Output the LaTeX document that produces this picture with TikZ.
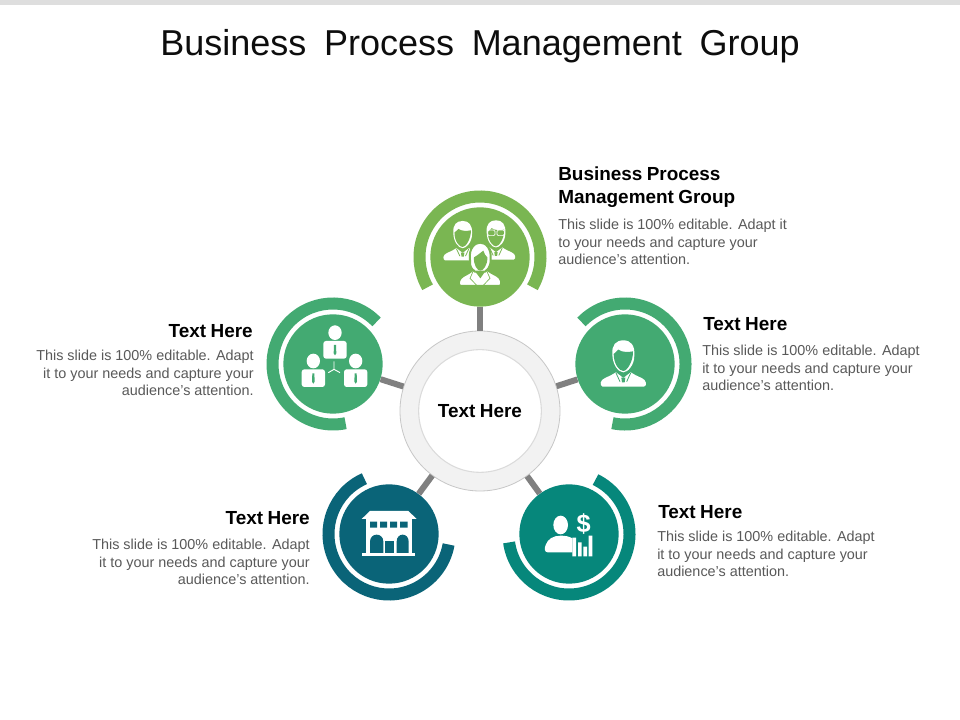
\documentclass[tikz,border=0pt]{standalone}
\usepackage{fontspec}
\setmainfont{Liberation Sans}
\definecolor{cgreen}{HTML}{7AB652}
\definecolor{cmint}{HTML}{43AA72}
\definecolor{cblue}{HTML}{0A6478}
\definecolor{cteal}{HTML}{06877B}
\definecolor{cbody}{HTML}{595959}
\definecolor{cspoke}{HTML}{808080}
\newcommand{\headfnt}{\bfseries\fontsize{14.2pt}{17.25pt}\selectfont\spaceskip 3.3pt\relax}
\newcommand{\titlefnt}{\fontsize{27pt}{32pt}\selectfont\spaceskip 13.25pt\relax}
\tikzset{
  disc/.style={circle,inner sep=0pt,minimum size=74.5pt,fill=#1},
  band/.style={line width=9pt,draw=#1},
  spoke/.style={line width=4.5pt,draw=cspoke},
  headR/.style={font=\headfnt,text=black,inner sep=0pt,anchor=west,align=left},
  headL/.style={font=\headfnt,text=black,inner sep=0pt,anchor=east,align=right},
  bodyR/.style={font=\fontsize{10.8pt}{13.1pt}\selectfont,text=cbody,inner sep=0pt,anchor=west,align=left},
  bodyL/.style={font=\fontsize{10.8pt}{13.1pt}\selectfont,text=cbody,inner sep=0pt,anchor=east,align=right},
  crop/.style={x=0.25pt,y=-0.25pt},
}
\newcommand{\ringband}[4]{\draw[band=#4] ([shift={(#2:60.5)}]#1.center) arc[start angle=#2,end angle=#3,radius=60.5];}
\newcommand{\manfig}[4]{%
  \begin{scope}[shift={(#1,#2)},scale=#3]
    \fill[white] (-62,93) .. controls (-72,90) and (-70,73) .. (-55,67) .. controls (-42,61) and (-32,57) .. (-22,50) -- (0,67) -- (22,50) .. controls (32,57) and (42,61) .. (55,67) .. controls (70,73) and (72,90) .. (62,93) -- cycle;
    \fill[white] (-33,-5) .. controls (-35,-32) and (-22,-46) .. (0,-46) .. controls (22,-46) and (35,-32) .. (33,0) .. controls (33,30) and (12,50) .. (0,50) .. controls (-15,50) and (-33,27) .. (-33,-5) -- cycle;
    \fill[#4] (-29,-5) .. controls (-24,-10) and (-18,-14) .. (-15,-18) .. controls (-5,-10) and (15,-10) .. (29,-13) .. controls (30,15) and (12,46) .. (0,46) .. controls (-12,46) and (-29,25) .. (-29,-5) -- cycle;
    \draw[#4,line width=.6pt] (-22,52) -- (-10,78) (22,52) -- (10,78);
    \fill[#4] (-6,66) -- (6,66) -- (4,80) -- (-4,80) -- cycle;
  \end{scope}}
\begin{document}
\begin{tikzpicture}[x=0.75pt,y=0.75pt]
\useasboundingbox (0,0) rectangle (960,720);
\fill[white] (0,0) rectangle (960,720);
\fill[black!13] (0,715) rectangle (960,720);

\node[font=\titlefnt,text=black!95,inner sep=0pt,anchor=base] (title) at (480,664) {Business Process Management Group};

% hub
\node[circle,inner sep=0pt,minimum size=120pt,fill=black!5,draw=black!22,line width=.6pt] (hub) at (480,309) {};
\node[circle,inner sep=0pt,minimum size=92pt,fill=white,draw=black!14,line width=.8pt,font=\headfnt] (hubtext) at (480,309) {Text Here};

% discs
\node[disc=cgreen] (c1) at (480,463) {};
\node[disc=cmint] (c2) at (333,356) {};
\node[disc=cmint] (c3) at (625,356) {};
\node[disc=cblue] (c4) at (389,186) {};
\node[disc=cteal] (c5) at (569,186) {};

% spokes
\draw[spoke] (hub) -- (c1);
\draw[spoke] (hub) -- (c2);
\draw[spoke] (hub) -- (c3);
\draw[spoke] (hub) -- (c4);
\draw[spoke] (hub) -- (c5);

% outer bands
\ringband{c1}{-30}{210}{cgreen}
\ringband{c2}{44}{282}{cmint}
\ringband{c3}{-102}{136}{cmint}
\ringband{c4}{114}{350}{cblue}
\ringband{c5}{-172}{64}{cteal}

% team icon
\begin{scope}[shift={(400,540)},crop]
  \manfig{188}{162}{.85}{cgreen}
  \manfig{288}{160}{.85}{cgreen}
  \draw[white,line width=.5pt,rounded corners=1pt] (263,150) rectangle (285,167) (291,150) rectangle (313,167);
  \draw[cgreen,line width=1.5pt,fill=white] (180,318) .. controls (172,310) and (178,295) .. (190,288) .. controls (205,280) and (215,275) .. (222,265) -- (241,290) -- (258,265) .. controls (265,275) and (278,280) .. (292,288) .. controls (303,295) and (308,310) .. (300,318) -- cycle;
  \draw[cgreen,line width=1.5pt,fill=white] (210,240) .. controls (205,205) and (225,188) .. (240,188) .. controls (258,188) and (275,205) .. (272,240) .. controls (272,262) and (262,270) .. (255,275) -- (225,275) .. controls (215,268) and (208,260) .. (210,240) -- cycle;
  \fill[cgreen] (222,232) .. controls (235,225) and (245,215) .. (250,212) .. controls (252,222) and (258,228) .. (262,232) .. controls (263,255) and (250,272) .. (241,272) .. controls (232,272) and (220,255) .. (222,232) -- cycle;
  \draw[cgreen,line width=.5pt] (222,268) -- (210,295) -- (232,318) (258,268) -- (270,295) -- (248,318);
\end{scope}

% org icon
\begin{scope}[shift={(260,430)},crop]
  \foreach \hx/\hy in {225/128,160/213,287/213}{
    \fill[white] (\hx,\hy) ellipse [x radius=20,y radius=22];
    \fill[white,rounded corners=2pt] (\hx-35,\hy+25) rectangle (\hx+35,\hy+78);
    \fill[cmint] (\hx-3,\hy+37) -- (\hx+3,\hy+37) -- (\hx+4,\hy+62) -- (\hx,\hy+68) -- (\hx-4,\hy+62) -- cycle;
  }
  \draw[white,line width=.7pt] (222,238) -- (222,214) (222,238) -- (205,248) (222,238) -- (240,248);
\end{scope}

% man icon
\begin{scope}[shift={(570,430)},crop]
  \manfig{160}{197}{1}{cmint}
\end{scope}

% building icon
\begin{scope}[shift={(315,255)},crop]
  \fill[white] (140,162) -- (165,138) -- (280,138) -- (305,162) -- cycle;
  \fill[white] (153,162) rectangle (292,266);
  \fill[white] (142,264) rectangle (300,273);
  \fill[cblue] (165,170) rectangle (186,188) (195,170) rectangle (216,188) (225,170) rectangle (246,188) (255,170) rectangle (278,188);
  \fill[cblue] (165,264) -- (165,230) .. controls (165,202) and (205,202) .. (205,230) -- (205,264) -- cycle;
  \fill[cblue] (245,264) -- (245,230) .. controls (245,202) and (281,202) .. (281,230) -- (281,264) -- cycle;
  \fill[cblue] (210,228) rectangle (236,264);
\end{scope}

% finance icon
\begin{scope}[shift={(495,255)},crop]
  \fill[white] (197,180) ellipse [x radius=22,y radius=28];
  \fill[white] (158,262) .. controls (148,262) and (148,250) .. (152,240) .. controls (158,222) and (175,212) .. (197,212) .. controls (210,212) and (222,214) .. (232,220) -- (232,262) -- cycle;
  \fill[white] (232,218) rectangle (243,274) (249,232) rectangle (260,274) (265,245) rectangle (276,274) (281,212) rectangle (292,274);
  \node[text=white,inner sep=0pt,font=\bfseries\fontsize{19pt}{19pt}\selectfont] (dollar) at (266,176) {\$};
\end{scope}

% texts
\node[headR] (h1) at (558,532.5) {Business Process\\Management Group};
\node[bodyR] (b1) at (558,478) {This slide is 100\% editable. Adapt it\\to your needs and capture your\\audience's attention.};
\node[headR] (h3) at (703,396) {Text Here};
\node[bodyR] (b3) at (702,352) {This slide is 100\% editable. Adapt\\it to your needs and capture your\\audience's attention.};
\node[headR] (h5) at (658,208) {Text Here};
\node[bodyR] (b5) at (657,166) {This slide is 100\% editable. Adapt\\it to your needs and capture your\\audience's attention.};
\node[headL] (h2) at (253,389) {Text Here};
\node[bodyL] (b2) at (254,347) {This slide is 100\% editable. Adapt\\it to your needs and capture your\\audience's attention.};
\node[headL] (h4) at (310,202) {Text Here};
\node[bodyL] (b4) at (310,158) {This slide is 100\% editable. Adapt\\it to your needs and capture your\\audience's attention.};
\end{tikzpicture}
\end{document}
